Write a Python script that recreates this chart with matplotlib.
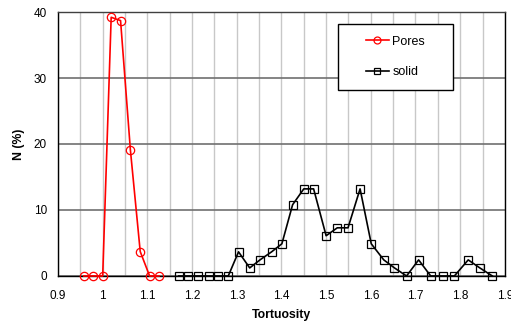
import matplotlib
matplotlib.use("Agg")
import matplotlib.pyplot as plt
from matplotlib.ticker import MultipleLocator
from matplotlib.patches import Rectangle

pores_x = [0.958, 0.979, 1.000, 1.019, 1.040, 1.062, 1.084, 1.105, 1.126]
pores_y = [0, 0, 0, 39.2, 38.7, 19.1, 3.7, 0, 0]

solid_x = [1.170, 1.192, 1.214, 1.237, 1.259, 1.281, 1.304, 1.329, 1.352, 1.378,
           1.401, 1.425, 1.450, 1.472, 1.500, 1.525, 1.549, 1.576, 1.601, 1.629,
           1.653, 1.680, 1.707, 1.734, 1.761, 1.787, 1.818, 1.844, 1.872]
solid_y = [0, 0, 0, 0, 0, 0, 3.66, 1.22, 2.44, 3.66,
           4.88, 10.8, 13.2, 13.2, 6.1, 7.3, 7.3, 13.2, 4.88, 2.44,
           1.22, 0, 2.44, 0, 0, 0, 2.44, 1.22, 0]

x_ticks = [0.9, 1.0, 1.1, 1.2, 1.3, 1.4, 1.5, 1.6, 1.7, 1.8, 1.9]
x_tick_labels = ["0.9", "1", "1.1", "1.2", "1.3", "1.4", "1.5", "1.6", "1.7", "1.8", "1.9"]
y_ticks = [0, 10, 20, 30, 40]

plt.rcParams['font.family'] = ['Liberation Sans', 'DejaVu Sans']

fig = plt.figure(figsize=(5.11, 3.22), dpi=100)
ax = fig.add_axes([0.1135, 0.1429, 0.8745, 0.8198])

ax.set_xlim(0.9, 1.9)
ax.set_ylim(0, 40)

# grid
ax.xaxis.set_minor_locator(MultipleLocator(0.05))
ax.grid(which='minor', axis='x', color='#c8c8c8', linewidth=1.0)
ax.grid(which='major', axis='x', color='#c8c8c8', linewidth=1.0)
ax.grid(which='major', axis='y', color='#707070', linewidth=1.2)
ax.set_axisbelow(True)

ax.plot(pores_x, pores_y, color='red', linewidth=1.2, marker='o', markersize=6,
        markerfacecolor='none', markeredgecolor='red', markeredgewidth=0.9,
        label='Pores', clip_on=False, zorder=3)
ax.plot(solid_x, solid_y, color='black', linewidth=1.2, marker='s', markersize=5.8,
        markerfacecolor='none', markeredgecolor='black', markeredgewidth=0.9,
        label='solid', clip_on=False, zorder=3)

ax.set_xticks(x_ticks)
ax.set_xticklabels(x_tick_labels)
ax.set_yticks(y_ticks)
ax.tick_params(axis='x', which='major', labelsize=8.5, length=0, pad=10)
ax.tick_params(axis='y', which='major', labelsize=8.5, length=0, pad=8)
ax.tick_params(axis='x', which='minor', length=0)

for s in ax.spines.values():
    s.set_color('black')
    s.set_linewidth(1.0)
ax.spines['top'].set_color('#404040')

ax.set_xlabel('Tortuosity', fontsize=8.8, fontweight='bold', labelpad=5)
ax.set_ylabel('N (%)', fontsize=8.8, fontweight='bold', labelpad=6)

# legend frame and content
box = (0.6257, 0.7034, 0.2586, 0.2523)
ax.add_patch(Rectangle((box[0], box[1]), box[2], box[3], transform=ax.transAxes,
                       facecolor='white', edgecolor='black', linewidth=1.0, zorder=4))
leg = ax.legend(loc='center', bbox_to_anchor=box, fontsize=9,
                frameon=False, handlelength=1.85, labelspacing=1.5, borderpad=0,
                handletextpad=0.3, borderaxespad=0)
leg.set_zorder(5)
for h in leg.legend_handles:
    h.set_markersize(5)

fig.savefig('out.png', dpi=100)
